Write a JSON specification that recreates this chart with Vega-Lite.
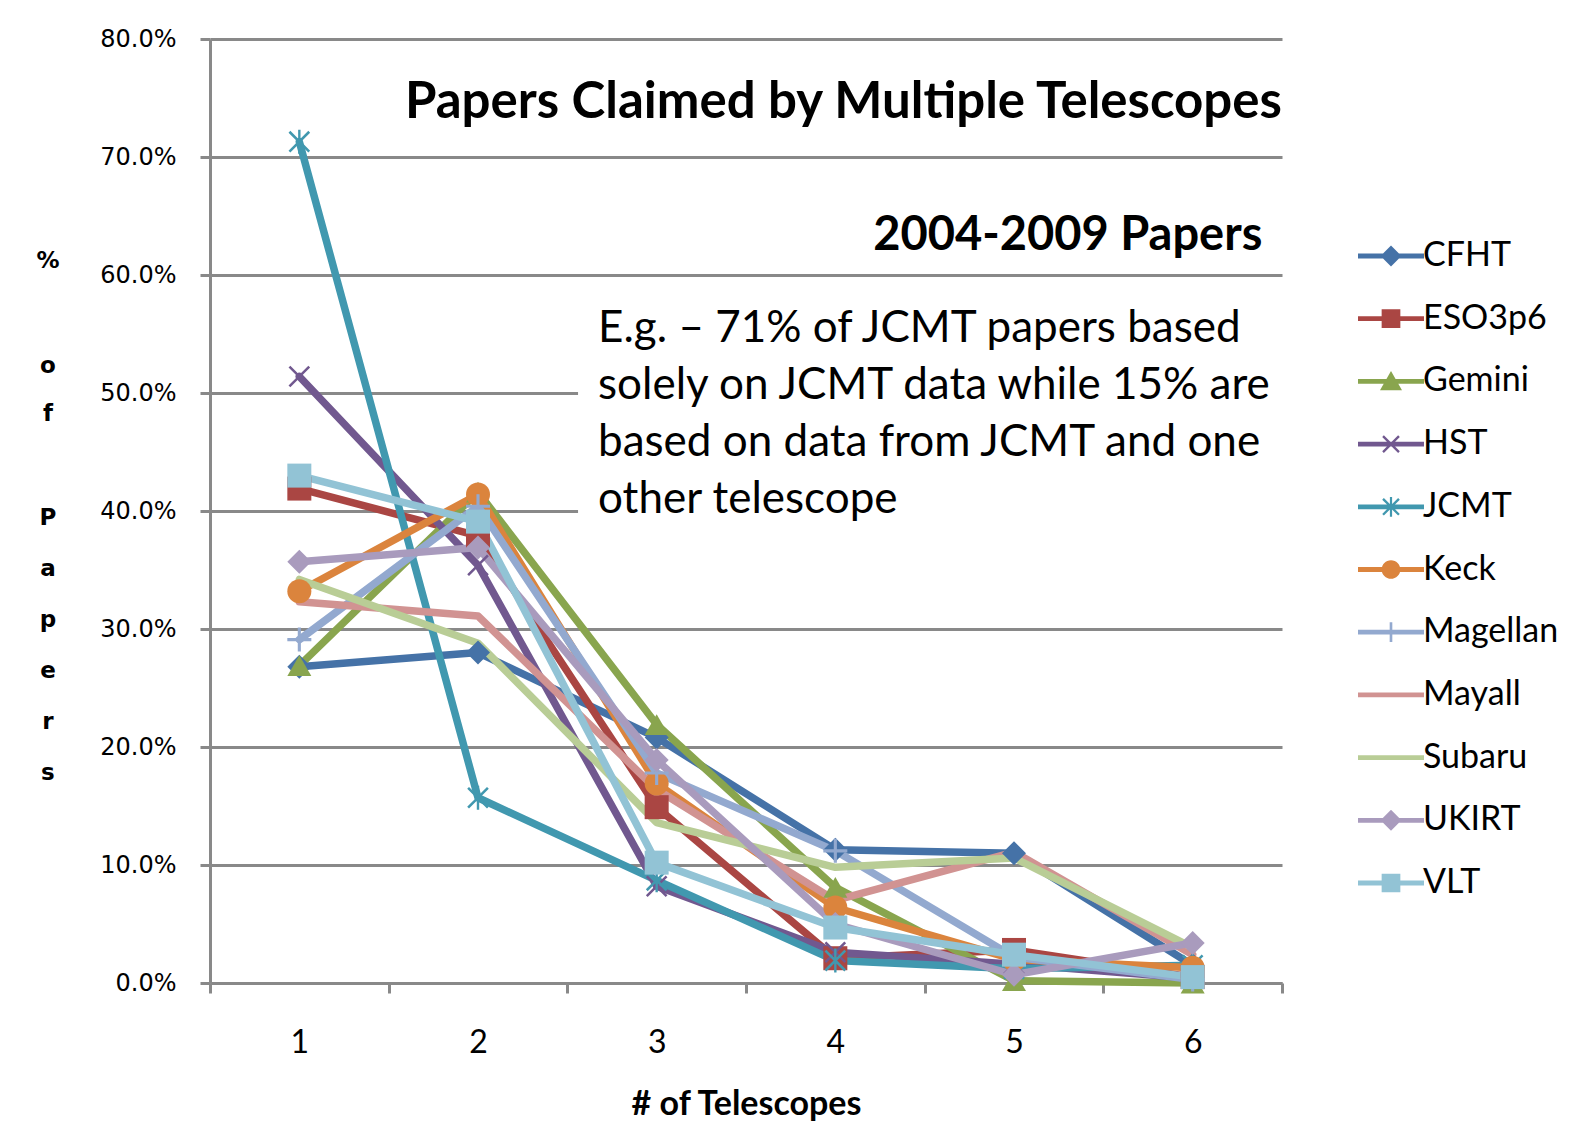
{
  "$schema": "https://vega.github.io/schema/vega-lite/v6.json",
  "width": 1072,
  "height": 944,
  "autosize": "none",
  "padding": {"left": 210, "top": 39, "right": 289, "bottom": 141},
  "background": "white",
  "config": {"view": {"stroke": null}, "font": "Lato"},
  "data": {"values": [
    {"telescope": "CFHT", "n": 1, "pct": 0.268}, {"telescope": "CFHT", "n": 2, "pct": 0.280}, {"telescope": "CFHT", "n": 3, "pct": 0.208}, {"telescope": "CFHT", "n": 4, "pct": 0.113}, {"telescope": "CFHT", "n": 5, "pct": 0.110}, {"telescope": "CFHT", "n": 6, "pct": 0.015},
    {"telescope": "ESO3p6", "n": 1, "pct": 0.419}, {"telescope": "ESO3p6", "n": 2, "pct": 0.379}, {"telescope": "ESO3p6", "n": 3, "pct": 0.149}, {"telescope": "ESO3p6", "n": 4, "pct": 0.021}, {"telescope": "ESO3p6", "n": 5, "pct": 0.028}, {"telescope": "ESO3p6", "n": 6, "pct": 0.005},
    {"telescope": "Gemini", "n": 1, "pct": 0.269}, {"telescope": "Gemini", "n": 2, "pct": 0.416}, {"telescope": "Gemini", "n": 3, "pct": 0.219}, {"telescope": "Gemini", "n": 4, "pct": 0.081}, {"telescope": "Gemini", "n": 5, "pct": 0.002}, {"telescope": "Gemini", "n": 6, "pct": 0.0},
    {"telescope": "HST", "n": 1, "pct": 0.514}, {"telescope": "HST", "n": 2, "pct": 0.354}, {"telescope": "HST", "n": 3, "pct": 0.082}, {"telescope": "HST", "n": 4, "pct": 0.026}, {"telescope": "HST", "n": 5, "pct": 0.016}, {"telescope": "HST", "n": 6, "pct": 0.004},
    {"telescope": "JCMT", "n": 1, "pct": 0.713}, {"telescope": "JCMT", "n": 2, "pct": 0.157}, {"telescope": "JCMT", "n": 3, "pct": 0.087}, {"telescope": "JCMT", "n": 4, "pct": 0.019}, {"telescope": "JCMT", "n": 5, "pct": 0.012}, {"telescope": "JCMT", "n": 6, "pct": 0.015},
    {"telescope": "Keck", "n": 1, "pct": 0.332}, {"telescope": "Keck", "n": 2, "pct": 0.414}, {"telescope": "Keck", "n": 3, "pct": 0.169}, {"telescope": "Keck", "n": 4, "pct": 0.064}, {"telescope": "Keck", "n": 5, "pct": 0.020}, {"telescope": "Keck", "n": 6, "pct": 0.013},
    {"telescope": "Magellan", "n": 1, "pct": 0.291}, {"telescope": "Magellan", "n": 2, "pct": 0.404}, {"telescope": "Magellan", "n": 3, "pct": 0.178}, {"telescope": "Magellan", "n": 4, "pct": 0.112}, {"telescope": "Magellan", "n": 5, "pct": 0.022}, {"telescope": "Magellan", "n": 6, "pct": 0.003},
    {"telescope": "Mayall", "n": 1, "pct": 0.323}, {"telescope": "Mayall", "n": 2, "pct": 0.311}, {"telescope": "Mayall", "n": 3, "pct": 0.164}, {"telescope": "Mayall", "n": 4, "pct": 0.070}, {"telescope": "Mayall", "n": 5, "pct": 0.111}, {"telescope": "Mayall", "n": 6, "pct": 0.024},
    {"telescope": "Subaru", "n": 1, "pct": 0.342}, {"telescope": "Subaru", "n": 2, "pct": 0.288}, {"telescope": "Subaru", "n": 3, "pct": 0.136}, {"telescope": "Subaru", "n": 4, "pct": 0.098}, {"telescope": "Subaru", "n": 5, "pct": 0.106}, {"telescope": "Subaru", "n": 6, "pct": 0.030},
    {"telescope": "UKIRT", "n": 1, "pct": 0.357}, {"telescope": "UKIRT", "n": 2, "pct": 0.369}, {"telescope": "UKIRT", "n": 3, "pct": 0.189}, {"telescope": "UKIRT", "n": 4, "pct": 0.050}, {"telescope": "UKIRT", "n": 5, "pct": 0.007}, {"telescope": "UKIRT", "n": 6, "pct": 0.034},
    {"telescope": "VLT", "n": 1, "pct": 0.430}, {"telescope": "VLT", "n": 2, "pct": 0.391}, {"telescope": "VLT", "n": 3, "pct": 0.102}, {"telescope": "VLT", "n": 4, "pct": 0.047}, {"telescope": "VLT", "n": 5, "pct": 0.024}, {"telescope": "VLT", "n": 6, "pct": 0.005}
  ]},
  "layer": [
    {
      "mark": {"type": "line", "strokeWidth": 7.5, "strokeJoin": "round", "strokeCap": "round"},
      "encoding": {
        "x": {
          "field": "n", "type": "quantitative",
          "scale": {"domain": [0.5, 6.5], "nice": false, "zero": false},
          "axis": {
            "title": "# of Telescopes",
            "values": [0.5, 1, 1.5, 2, 2.5, 3, 3.5, 4, 4.5, 5, 5.5, 6, 6.5],
            "labelExpr": "datum.value % 1 === 0 ? format(datum.value, 'd') : ''",
            "tickOpacity": {"condition": {"test": "datum.value % 1 === 0", "value": 0}, "value": 1},
            "grid": false,
            "domainColor": "#898989", "domainWidth": 3,
            "tickColor": "#898989", "tickWidth": 3, "tickSize": 10,
            "labelFont": "Lato", "labelFontSize": 32, "labelColor": "black", "labelPadding": 34,
            "labelFlush": false, "labelOverlap": false,
            "titleFont": "Lato", "titleFontSize": 34, "titleFontWeight": "bold", "titleColor": "black",
            "titleY": 131, "titleBaseline": "alphabetic"
          }
        },
        "y": {
          "field": "pct", "type": "quantitative",
          "scale": {"domain": [0, 0.8], "nice": false},
          "axis": {
            "title": null,
            "values": [0, 0.1, 0.2, 0.3, 0.4, 0.5, 0.6, 0.7, 0.8],
            "format": ".1%",
            "grid": true, "gridColor": "#898989", "gridWidth": 3,
            "domainColor": "#898989", "domainWidth": 3,
            "tickColor": "#898989", "tickWidth": 3, "tickSize": 10,
            "labelFont": "DejaVu Sans", "labelFontSize": 24, "labelColor": "black", "labelPadding": 24,
            "labelFlush": false
          }
        },
        "color": {
          "field": "telescope", "type": "nominal",
          "scale": {
            "domain": ["CFHT", "ESO3p6", "Gemini", "HST", "JCMT", "Keck", "Magellan", "Mayall", "Subaru", "UKIRT", "VLT"],
            "range": ["#4572A7", "#AA4643", "#89A54E", "#71588F", "#4198AF", "#DB843D", "#93A9CF", "#D19392", "#B9CD96", "#A99BBD", "#92C3D5"]
          },
          "legend": {
            "title": null, "orient": "none", "legendX": 1164, "legendY": 200,
            "labelFont": "Lato", "labelFontSize": 34, "labelColor": "black", "labelLimit": 400,
            "symbolSize": 484, "rowPadding": 28.7, "labelOffset": 15, "symbolStrokeWidth": 0,
            "encode": {
              "symbols": {
                "update": {
                  "shape": {"signal": "{'CFHT': 'M-3,-0.22L-3,0.22L3,0.22L3,-0.22ZM0,-0.95L-0.95,0L0,0.95L0.95,0Z', 'ESO3p6': 'M-3,-0.22L-3,0.22L3,0.22L3,-0.22ZM-0.85,-0.85L-0.85,0.85L0.85,0.85L0.85,-0.85Z', 'Gemini': 'M-3,-0.22L-3,0.22L3,0.22L3,-0.22ZM0,-0.95L-1,0.8L1,0.8Z', 'HST': 'M-3,-0.22L-3,0.22L3,0.22L3,-0.22ZM-0.8,-0.65L0.65,0.8L0.8,0.65L-0.65,-0.8ZM-0.8,0.65L-0.65,0.8L0.8,-0.65L0.65,-0.8Z', 'JCMT': 'M-3,-0.22L-3,0.22L3,0.22L3,-0.22ZM-0.8,-0.65L0.65,0.8L0.8,0.65L-0.65,-0.8ZM-0.8,0.65L-0.65,0.8L0.8,-0.65L0.65,-0.8ZM-0.1,-0.9L-0.1,0.9L0.1,0.9L0.1,-0.9Z', 'Keck': 'M-3,-0.22L-3,0.22L3,0.22L3,-0.22ZM-0.85,0A0.85,0.85 0 1,0 0.85,0A0.85,0.85 0 1,0 -0.85,0Z', 'Magellan': 'M-3,-0.22L-3,0.22L3,0.22L3,-0.22ZM-0.12,-0.9L-0.12,0.9L0.12,0.9L0.12,-0.9Z', 'Mayall': 'M-3,-0.22L-3,0.22L3,0.22L3,-0.22Z', 'Subaru': 'M-3,-0.22L-3,0.22L3,0.22L3,-0.22Z', 'UKIRT': 'M-3,-0.22L-3,0.22L3,0.22L3,-0.22ZM0,-0.95L-0.95,0L0,0.95L0.95,0Z', 'VLT': 'M-3,-0.22L-3,0.22L3,0.22L3,-0.22ZM-0.85,-0.85L-0.85,0.85L0.85,0.85L0.85,-0.85Z'}[datum.value]"},
                  "fill": {"signal": "scale('color', datum.value)"},
                  "stroke": {"value": "transparent"},
                  "strokeWidth": {"value": 0},
                  "size": {"value": 484},
                  "opacity": {"value": 1}
                }
              }
            }
          }
        }
      }
    },
    {
      "data": {"values": [{}]},
      "mark": {"type": "rect", "fill": "white"},
      "encoding": {
        "x": {"datum": 2.56, "type": "quantitative"},
        "x2": {"datum": 6.62},
        "y": {"datum": 0.36, "type": "quantitative"},
        "y2": {"datum": 0.565}
      }
    },
    {
      "transform": [{"filter": "datum.telescope !== 'Mayall' && datum.telescope !== 'Subaru'"}],
      "mark": {"type": "point", "filled": true, "opacity": 1, "size": 576, "strokeWidth": 0},
      "encoding": {
        "x": {"field": "n", "type": "quantitative"},
        "y": {"field": "pct", "type": "quantitative"},
        "color": {"field": "telescope", "type": "nominal", "legend": null},
        "shape": {
          "field": "telescope", "type": "nominal", "legend": null,
          "scale": {
            "domain": ["CFHT", "ESO3p6", "Gemini", "HST", "JCMT", "Keck", "Magellan", "UKIRT", "VLT"],
            "range": ["diamond", "square", "triangle-up",
              "M-0.9,-0.75L0.75,0.9L0.9,0.75L-0.75,-0.9ZM-0.9,0.75L-0.75,0.9L0.9,-0.75L0.75,-0.9Z",
              "M-0.9,-0.75L0.75,0.9L0.9,0.75L-0.75,-0.9ZM-0.9,0.75L-0.75,0.9L0.9,-0.75L0.75,-0.9ZM-0.1,-1L-0.1,1L0.1,1L0.1,-1Z",
              "circle",
              "M-1,-0.13L-1,0.13L1,0.13L1,-0.13ZM-0.13,-1L-0.13,1L0.13,1L0.13,-1Z",
              "diamond", "square"]
          }
        }
      }
    },
    {
      "data": {"values": [{}]},
      "mark": {"type": "text", "align": "center", "baseline": "alphabetic", "font": "DejaVu Sans", "fontSize": 23, "fontWeight": "bold", "lineHeight": 51.2, "color": "black"},
      "encoding": {
        "x": {"datum": -0.407, "type": "quantitative"},
        "y": {"datum": 0.606, "type": "quantitative"},
        "text": {"value": "%"}
      }
    },
    {
      "data": {"values": [{}]},
      "mark": {"type": "text", "align": "center", "baseline": "alphabetic", "font": "DejaVu Sans", "fontSize": 23, "fontWeight": "bold", "lineHeight": 48, "color": "black"},
      "encoding": {
        "x": {"datum": -0.407, "type": "quantitative"},
        "y": {"datum": 0.517, "type": "quantitative"},
        "text": {"value": ["o", "f"]}
      }
    },
    {
      "data": {"values": [{}]},
      "mark": {"type": "text", "align": "center", "baseline": "alphabetic", "font": "DejaVu Sans", "fontSize": 23, "fontWeight": "bold", "lineHeight": 51, "color": "black"},
      "encoding": {
        "x": {"datum": -0.407, "type": "quantitative"},
        "y": {"datum": 0.388, "type": "quantitative"},
        "text": {"value": ["P", "a", "p", "e", "r", "s"]}
      }
    },
    {
      "data": {"values": [{}]},
      "mark": {"type": "text", "align": "right", "baseline": "alphabetic", "font": "Lato", "fontSize": 51, "fontWeight": "bold", "color": "black"},
      "encoding": {
        "x": {"datum": 6.5, "type": "quantitative"},
        "y": {"datum": 0.733, "type": "quantitative"},
        "text": {"value": "Papers Claimed by Multiple Telescopes"}
      }
    },
    {
      "data": {"values": [{}]},
      "mark": {"type": "text", "align": "right", "baseline": "alphabetic", "font": "Lato", "fontSize": 47, "fontWeight": "bold", "color": "black"},
      "encoding": {
        "x": {"datum": 6.39, "type": "quantitative"},
        "y": {"datum": 0.621, "type": "quantitative"},
        "text": {"value": "2004-2009 Papers"}
      }
    },
    {
      "data": {"values": [{}]},
      "mark": {"type": "text", "align": "left", "baseline": "alphabetic", "font": "Lato", "fontSize": 44, "lineHeight": 57, "color": "black"},
      "encoding": {
        "x": {"datum": 2.672, "type": "quantitative"},
        "y": {"datum": 0.543, "type": "quantitative"},
        "text": {"value": ["E.g. – 71% of JCMT papers based", "solely on JCMT data while 15% are", "based on data from JCMT and one", "other telescope"]}
      }
    }
  ]
}
